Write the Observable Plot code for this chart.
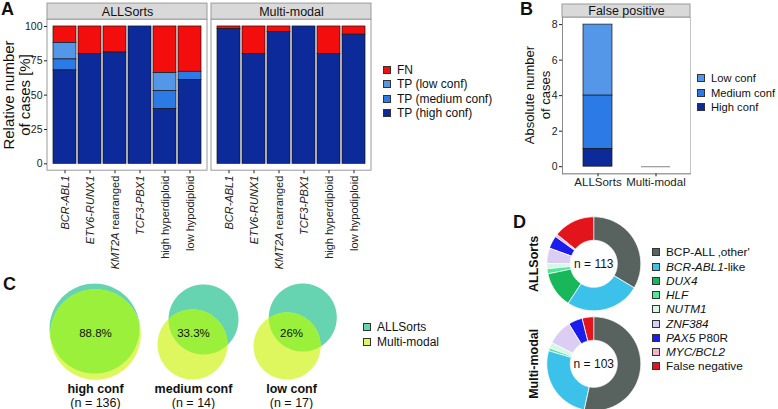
<!DOCTYPE html>
<html><head><meta charset="utf-8">
<script src="https://cdn.jsdelivr.net/npm/d3@7"></script>
<script src="https://cdn.jsdelivr.net/npm/@observablehq/plot@0.6"></script>
<style>
html,body{margin:0;padding:0;background:#fff;}
#fig{position:relative;width:778px;height:409px;overflow:hidden;font-family:"Liberation Sans",Arial,Helvetica,sans-serif;color:#111;}
.plab{position:absolute;font-weight:bold;font-size:18px;line-height:18px;}
.legend{position:absolute;white-space:nowrap;}
.legend .row{display:flex;align-items:center;}
.legend .sw{width:8px;height:8px;box-sizing:border-box;border:1px solid #333;margin-right:6px;flex:none;}
.ytitle{position:absolute;width:200px;text-align:center;white-space:nowrap;transform:rotate(-90deg);transform-origin:50% 50%;}
</style></head>
<body><div id="fig"></div>
<script>
// ---------------- DATA ----------------
// Panel A: relative number of cases [%]
const methods = ["ALLSorts", "Multi-modal"];
const subtypes = ["BCR-ABL1", "ETV6-RUNX1", "KMT2A rearranged", "TCF3-PBX1", "high hyperdiploid", "low hypodiploid"];
const outcomes = ["FN", "TP (low conf)", "TP (medium conf)", "TP (high conf)"];
const allsortsHigh   = [68, 80, 81, 100, 40, 61];
const allsortsMedium = [8, 0, 0, 0, 13, 6];
const allsortsLow    = [12, 0, 0, 0, 13, 0];
const allsortsFN     = [12, 20, 19, 0, 34, 33];
const multimodalHigh   = [98, 80, 96, 100, 80, 94];
const multimodalMedium = [0, 0, 0, 0, 0, 0];
const multimodalLow    = [0, 0, 0, 0, 0, 0];
const multimodalFN     = [2, 20, 4, 0, 20, 6];
const aTicks = [0, 25, 50, 75, 100];

// Panel B: false positives (absolute number)
const fpMethods = ["ALLSorts", "Multi-modal"];
const fpConf = ["Low conf", "Medium conf", "High conf"];
const fpLow    = [4, 0];
const fpMedium = [3, 0];
const fpHigh   = [1, 0];
const bTicks = [0, 2, 4, 6, 8];

// Panel C: Venn overlaps
const vennSets = ["high conf", "medium conf", "low conf"];
const vennN = [136, 14, 17];
const vennOverlap = ["88.8%", "33.3%", "26%"];
const vennGroups = ["ALLSorts", "Multi-modal"];

// Panel D: subgroup composition
const donutMethods = ["ALLSorts", "Multi-modal"];
const donutN = [113, 103];
const subgroups = ["BCP-ALL \u201Aother'", "BCR-ABL1-like", "DUX4", "HLF", "NUTM1", "ZNF384", "PAX5 P80R", "MYC/BCL2", "False negative"];
const allsortsCounts   = [38, 29, 14, 2, 2, 6, 5, 1, 16];
const multimodalCounts = [55, 27, 0, 1, 2, 9, 5, 0, 4];

// ---------------- STYLE / LAYOUT ----------------
const FONT = '"Liberation Sans", Arial, Helvetica, sans-serif';
const outcomeColors = ["#f40d0d", "#5497e9", "#2b7ae6", "#0c2a9a"];
const fpColors = ["#5497e9", "#2b7ae6", "#0c2a9a"];
const vennColors = ["#66d4b1", "#dff75f"];
const overlapColor = "#9bf03c";
const subgroupColors = ["#58625f", "#3cc1ea", "#18b85a", "#4fe89a", "#d4f7e6", "#dccdf5", "#1c1ced", "#f0b4d2", "#e3141b"];
const STRIP_FILL = "#d9d9d9", FRAME_GRAY = "#9a9a9a";
const italicGenes = ["BCR-ABL1", "ETV6-RUNX1", "KMT2A", "TCF3-PBX1", "DUX4", "HLF", "NUTM1", "ZNF384", "PAX5", "MYC/BCL2"];
// venn circle offsets relative to each venn anchor (layout, in venn units)
const vennLayout = [
  {ax: -0.01, ay: 0.05, ar: 0.459, bx: 0.0, by: -0.01, br: 0.462},
  {ax: 0.102, ay: 0.143, ar: 0.357, bx: -0.01, by: -0.112, br: 0.357},
  {ax: 0.115, ay: 0.163, ar: 0.347, bx: -0.045, by: -0.128, br: 0.342}
];
const R_OUT = 0.47, R_IN = 0.235;

const fig = document.getElementById("fig");
function place(el, left, top) { el.style.position = "absolute"; el.style.left = left + "px"; el.style.top = top + "px"; fig.appendChild(el); return el; }
function segments(label) {
  for (const g of italicGenes) if (label.startsWith(g)) return [[g, true], [label.slice(g.length), false]].filter(s => s[0]);
  return [[label, false]];
}
function italicizeSvgText(t) {
  const segs = segments(t.textContent);
  if (segs.length === 1 && !segs[0][1]) return;
  t.textContent = "";
  for (const [s, it] of segs) {
    const ts = document.createElementNS("http://www.w3.org/2000/svg", "tspan");
    ts.textContent = s; if (it) ts.setAttribute("font-style", "italic");
    t.appendChild(ts);
  }
}
function htmlLabel(label) {
  return segments(label).map(([s, it]) => it ? `<i>${s}</i>` : s).join("");
}
function legend(items, colors, left, top, rowH, fontSize) {
  const d = document.createElement("div"); d.className = "legend";
  d.style.fontSize = fontSize + "px";
  items.forEach((it, i) => {
    const r = document.createElement("div"); r.className = "row"; r.style.height = rowH + "px";
    r.innerHTML = `<span class="sw" style="background:${colors[i]}"></span><span>${htmlLabel(it)}</span>`;
    d.appendChild(r);
  });
  return place(d, left, top);
}
function yTitle(lines, cx, cy, fontSize, lineH) {
  const d = document.createElement("div"); d.className = "ytitle";
  d.style.fontSize = fontSize + "px"; d.style.lineHeight = lineH + "px";
  d.innerHTML = lines.join("<br>");
  return place(d, cx - 100, cy - lines.length * lineH / 2);
}
function panelLabel(txt, left, top) { const d = document.createElement("div"); d.className = "plab"; d.textContent = txt; return place(d, left, top); }

// ---------------- PANEL A ----------------
const aSeries = {
  "ALLSorts": {"FN": allsortsFN, "TP (low conf)": allsortsLow, "TP (medium conf)": allsortsMedium, "TP (high conf)": allsortsHigh},
  "Multi-modal": {"FN": multimodalFN, "TP (low conf)": multimodalLow, "TP (medium conf)": multimodalMedium, "TP (high conf)": multimodalHigh}
};
const aRows = methods.flatMap(m => outcomes.flatMap(o => subtypes.map((s, i) => ({method: m, outcome: o, subtype: s, value: aSeries[m][o][i]})))).filter(d => d.value > 0);
const aPx = 137.3 / 100; // px per %
const plotA = Plot.plot({
  width: 380, height: 275,
  marginLeft: 47, marginRight: 8, marginTop: 19.1, marginBottom: 104.8,
  style: {fontFamily: FONT, fontSize: "11px", background: "transparent", color: "#222", overflow: "visible"},
  fx: {domain: methods, paddingInner: 0.0243, paddingOuter: 0, axis: null, label: null},
  x: {domain: subtypes, paddingInner: 0.1, paddingOuter: 0.15},
  y: {domain: [-5, 105]},
  color: {domain: outcomes, range: outcomeColors},
  marks: [
    Plot.rect(methods, {fx: d => d, y1: -5, y2: 105, fill: "white", stroke: FRAME_GRAY}),
    Plot.rect(methods, {fx: d => d, y1: 105, y2: 105 + 16 / aPx, fill: STRIP_FILL, stroke: FRAME_GRAY}),
    Plot.text(methods, {fx: d => d, y: 105 + 8 / aPx, text: d => d, fontSize: 12.5, fill: "#111"}),
    Plot.barY(aRows, {fx: "method", x: "subtype", y: "value", fill: "outcome",
      order: ["TP (high conf)", "TP (medium conf)", "TP (low conf)", "FN"], stroke: "#161616", strokeWidth: 0.7}),
    Plot.axisX({tickRotate: -90, tickSize: 3, tickPadding: 2, label: null, fontSize: 11}),
    Plot.axisY({ticks: aTicks, tickSize: 3, tickPadding: 2, label: null, fontSize: 10.5})
  ]
});
plotA.querySelectorAll('[aria-label="x-axis tick label"] text').forEach(italicizeSvgText);
place(plotA, 0, 0);
yTitle(["Relative number", "of cases [%]"], 17, 94.5, 15, 16);
legend(outcomes, outcomeColors, 383, 63, 14.3, 12);
panelLabel("A", 1, 0);

// ---------------- PANEL B ----------------
const fpSeries = {"Low conf": fpLow, "Medium conf": fpMedium, "High conf": fpHigh};
const bRows = fpConf.flatMap(c => fpMethods.map((m, i) => ({method: m, conf: c, value: fpSeries[c][i]})));
const bTotals = fpMethods.map((m, i) => ({method: m, total: fpLow[i] + fpMedium[i] + fpHigh[i]}));
const bPx = 156.3 / 8.8;
const plotB = Plot.plot({
  width: 180, height: 195,
  marginLeft: 42, marginRight: 10, marginTop: 17, marginBottom: 21.7,
  style: {fontFamily: FONT, fontSize: "11px", background: "transparent", color: "#222", overflow: "visible"},
  x: {domain: fpMethods, paddingInner: 0.5, paddingOuter: 0.35},
  y: {domain: [-0.4, 8.4]},
  color: {domain: fpConf, range: fpColors},
  marks: [
    Plot.frame({stroke: "#c4c4c4"}),
    Plot.frame({anchor: "left", stroke: "#8a8a8a"}),
    Plot.frame({anchor: "bottom", stroke: "#8a8a8a"}),
    Plot.rect([0], {y1: 8.4, y2: 8.4 + 13 / bPx, fill: STRIP_FILL, stroke: FRAME_GRAY}),
    Plot.text(["False positive"], {y: 8.4 + 6.5 / bPx, text: d => d, fontSize: 12.5, fill: "#111"}),
    Plot.barY(bRows.filter(d => d.value > 0), {x: "method", y: "value", fill: "conf",
      order: ["High conf", "Medium conf", "Low conf"], stroke: "#161616", strokeWidth: 0.7}),
    Plot.tickY(bTotals.filter(d => d.total === 0), {x: "method", y: "total", stroke: "#9a9a9a", strokeWidth: 1.2}),
    Plot.axisX({tickSize: 3, tickPadding: 1, label: null, fontSize: 11.5}),
    Plot.axisY({ticks: bTicks, tickSize: 3, tickPadding: 2, label: null, fontSize: 10.5})
  ]
});
place(plotB, 520, 0);
yTitle(["Absolute number", "of cases"], 538, 95, 13, 16);
legend(fpConf, fpColors, 697, 71, 14.5, 11.2);
panelLabel("B", 520, 0.4);

// ---------------- PANEL C ----------------
function circlePts(c) {
  return d3.range(0, 180).map(k => { const t = k / 180 * 2 * Math.PI; return [c.x + c.r * Math.cos(t), c.y + c.r * Math.sin(t)]; });
}
function lensPts(A, B) {
  const pts = [];
  for (let k = 0; k < 720; k++) {
    const t = k / 720 * 2 * Math.PI;
    const p = [A.x + A.r * Math.cos(t), A.y + A.r * Math.sin(t)];
    if (Math.hypot(p[0] - B.x, p[1] - B.y) <= B.r) pts.push(p);
    const q = [B.x + B.r * Math.cos(t), B.y + B.r * Math.sin(t)];
    if (Math.hypot(q[0] - A.x, q[1] - A.y) <= A.r) pts.push(q);
  }
  const cx = d3.mean(pts, p => p[0]), cy = d3.mean(pts, p => p[1]);
  pts.sort((p, q) => Math.atan2(p[1] - cy, p[0] - cx) - Math.atan2(q[1] - cy, q[0] - cx));
  return pts;
}
const circA = [], circB = [], lens = [];
vennSets.forEach((s, i) => {
  const L = vennLayout[i];
  const A = {x: i + L.ax, y: L.ay, r: L.ar}, B = {x: i + L.bx, y: L.by, r: L.br};
  circlePts(A).forEach(p => circA.push({set: s, x: p[0], y: p[1]}));
  circlePts(B).forEach(p => circB.push({set: s, x: p[0], y: p[1]}));
  lensPts(A, B).forEach(p => lens.push({set: s, x: p[0], y: p[1]}));
});
const plotC = Plot.plot({
  width: 360, height: 131, margin: 0,
  style: {fontFamily: FONT, fontSize: "11px", background: "transparent", color: "#111", overflow: "visible"},
  x: {domain: [-95 / 98, 265 / 98], axis: null},
  y: {domain: [-76 / 98, 55 / 98], axis: null},
  marks: [
    Plot.line(circA, {x: "x", y: "y", z: "set", fill: vennColors[0], stroke: "none", curve: "linear-closed"}),
    Plot.line(circB, {x: "x", y: "y", z: "set", fill: vennColors[1], stroke: "none", curve: "linear-closed"}),
    Plot.line(lens, {x: "x", y: "y", z: "set", fill: overlapColor, stroke: "none", curve: "linear-closed"}),
    Plot.text(vennOverlap, {x: (d, i) => i, y: 0, text: d => d, fontSize: 11.5, fill: "#111"}),
    Plot.text(vennSets, {x: (d, i) => i, y: -55 / 98, text: d => d, fontSize: 12.5, fontWeight: "bold", fill: "#111"}),
    Plot.text(vennN, {x: (d, i) => i, y: -69 / 98, text: d => `(n = ${d})`, fontSize: 12.5, fill: "#111"})
  ]
});
place(plotC, 0, 278);
legend(vennGroups, vennColors, 363, 319.5, 15, 12);
panelLabel("C", 3, 274.7);

// ---------------- PANEL D ----------------
const donutCounts = {"ALLSorts": allsortsCounts, "Multi-modal": multimodalCounts};
const slices = [];
donutMethods.forEach((m, di) => {
  const counts = donutCounts[m], total = d3.sum(counts);
  let a0 = 0;
  subgroups.forEach((g, gi) => {
    const c = counts[gi]; if (!c) return;
    const a1 = a0 + c / total * 2 * Math.PI;
    const n = Math.max(2, Math.ceil((a1 - a0) / (2 * Math.PI) * 240));
    const key = m + "|" + g;
    for (let k = 0; k <= n; k++) { const t = a0 + (a1 - a0) * k / n; slices.push({key, cat: g, x: R_OUT * Math.sin(t), y: -di + R_OUT * Math.cos(t)}); }
    for (let k = n; k >= 0; k--) { const t = a0 + (a1 - a0) * k / n; slices.push({key, cat: g, x: R_IN * Math.sin(t), y: -di + R_IN * Math.cos(t)}); }
    a0 = a1;
  });
});
const plotD = Plot.plot({
  width: 130, height: 199, margin: 0,
  style: {fontFamily: FONT, fontSize: "11px", background: "transparent", color: "#111", overflow: "visible"},
  x: {domain: [-73.3 / 100, 56.7 / 100], axis: null},
  y: {domain: [-145.7 / 100, 53.3 / 100], axis: null},
  color: {domain: subgroups, range: subgroupColors},
  marks: [
    Plot.line(slices, {x: "x", y: "y", z: "key", fill: "cat", stroke: "white", strokeWidth: 0.8, curve: "linear-closed"}),
    Plot.text(donutN, {x: 0, y: (d, i) => -i, text: d => `n = ${d}`, fontSize: 12, fill: "#111"}),
    Plot.text(donutMethods, {x: -0.603, y: (d, i) => -i, text: d => d, rotate: -90, fontSize: 12.5, fontWeight: "bold", fill: "#111"})
  ]
});
place(plotD, 520, 210);
legend(subgroups, subgroupColors, 652, 245.3, 14.25, 11.8);
panelLabel("D", 513, 212.7);
</script>
</body></html>
